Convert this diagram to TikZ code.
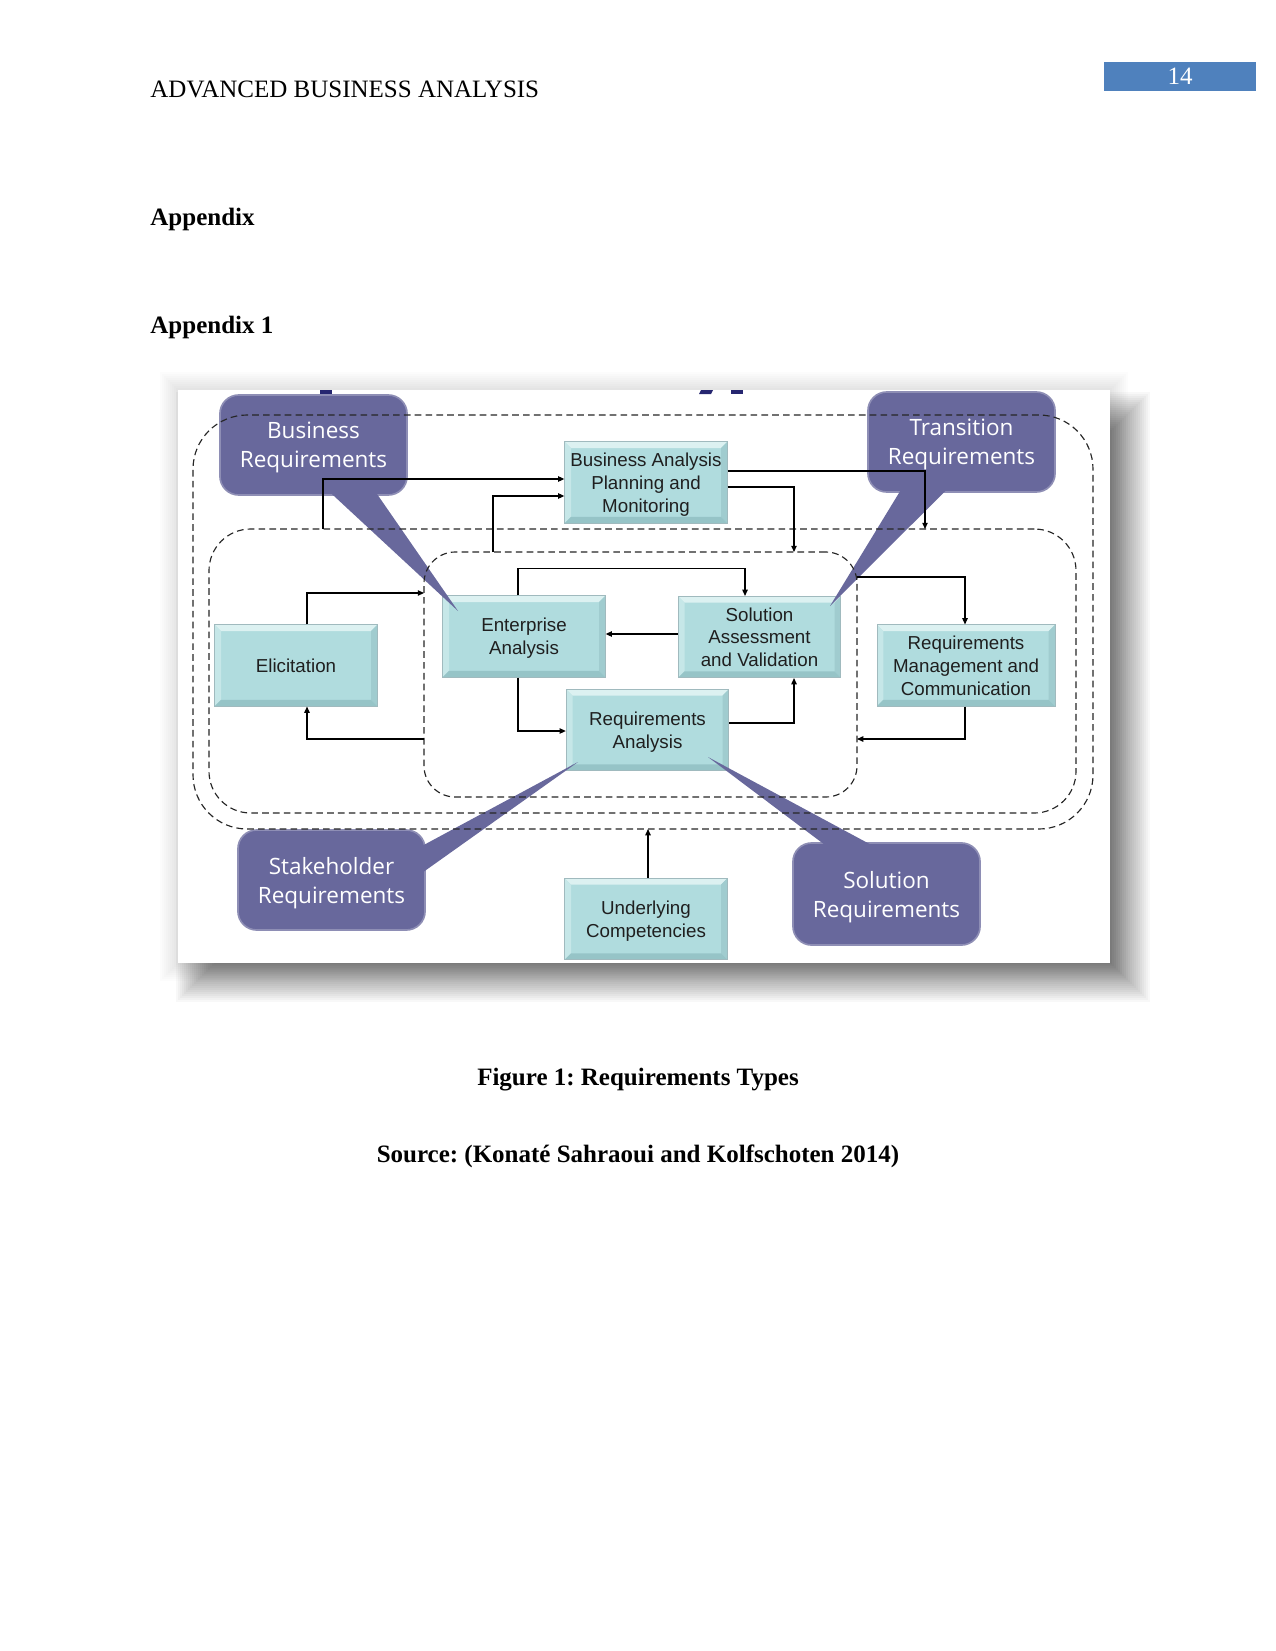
\documentclass[tikz,border=0pt]{standalone}
\usepackage{fontspec}
\setmainfont{Liberation Serif}
\newfontfamily\boxfont{Liberation Sans}
\newfontfamily\callfont{Open Sans}
\usepackage{tikz}
\usetikzlibrary{arrows.meta,calc}
\usepackage{xcolor}
\frenchspacing
\definecolor{pagecol}{RGB}{79,129,189}
\definecolor{tealfill}{RGB}{176,220,222}
\definecolor{teallight}{RGB}{220,241,241}
\definecolor{tealside}{RGB}{198,231,232}
\definecolor{tealshade}{RGB}{160,204,207}
\definecolor{tealdark}{RGB}{150,196,199}
\definecolor{tealedge}{RGB}{160,186,190}
\definecolor{callcol}{RGB}{104,104,156}
\definecolor{titlecol}{RGB}{38,38,112}
\tikzset{
  % task box with bevelled edge
  tbox/.style={rectangle, draw=tealedge, line width=0.4pt, fill=tealfill,
    minimum width=78pt, minimum height=39pt, inner sep=2pt, align=center, text depth=0pt,
    font=\boxfont\fontsize{9}{10.9}\selectfont, text=black!88,
    path picture={
      \fill[teallight] (path picture bounding box.north west) -- (path picture bounding box.north east)
        -- ([shift={(-3pt,-3pt)}]path picture bounding box.north east)
        -- ([shift={(3pt,-3pt)}]path picture bounding box.north west) -- cycle;
      \fill[tealside] (path picture bounding box.north west) -- ([shift={(3pt,-3pt)}]path picture bounding box.north west)
        -- ([shift={(3pt,3pt)}]path picture bounding box.south west) -- (path picture bounding box.south west) -- cycle;
      \fill[tealshade] (path picture bounding box.north east) -- ([shift={(-3pt,-3pt)}]path picture bounding box.north east)
        -- ([shift={(-3pt,3pt)}]path picture bounding box.south east) -- (path picture bounding box.south east) -- cycle;
      \fill[tealdark] (path picture bounding box.south west) -- ([shift={(3pt,3pt)}]path picture bounding box.south west)
        -- ([shift={(-3pt,3pt)}]path picture bounding box.south east) -- (path picture bounding box.south east) -- cycle;
    }},
  % purple callout
  callout/.style={rectangle, rounded corners=9pt, fill=callcol, draw=callcol!75!white, line width=0.8pt,
    minimum width=89.8pt, minimum height=48pt, inner sep=2pt, align=center, text depth=0pt, text=white,
    font=\callfont\fontsize{10.8}{13.9}\selectfont},
  % callout pointer
  pointer/.style={fill=callcol},
  % dashed zone
  zone/.style={rectangle, draw=black!85, dash pattern=on 3.2pt off 2pt, line width=0.55pt,
    inner sep=0pt, outer sep=0pt},
  % flow arrow
  flow/.style={-{Triangle[length=3pt,width=2.6pt]}, line width=0.55pt, black},
  % page texts
  pagetext/.style={anchor=base west, inner sep=0pt, font=\fontsize{12}{14}\selectfont},
  pagebox/.style={rectangle, fill=pagecol, minimum width=73pt, minimum height=14pt, inner sep=0pt,
    text=white, font=\fontsize{12}{14}\selectfont},
}

\begin{document}
\begin{tikzpicture}[x=0.48pt, y=-0.48pt]
  \useasboundingbox (0,0) rectangle (1275,1651);
  \fill[white] (0,0) rectangle (1275,1651);

  % page head
  \node[pagetext] (header) at (150,98) {ADVANCED BUSINESS ANALYSIS};
  \node[pagebox] (pageno) at (1180,76.5) {14};
  \node[pagetext, font=\bfseries\fontsize{12}{14}\selectfont] (apx) at (150,226) {Appendix};
  \node[pagetext, font=\bfseries\fontsize{12}{14}\selectfont] (apxone) at (150,333) {Appendix 1};

  % glow and drop shadow of the picture
  \foreach \k in {1,...,9}
    \fill[black, opacity=0.011] (178-2*\k,390-2*\k) rectangle (1110+2*\k,963+2*\k);
  \foreach \k in {0,...,19}
    \fill[black, opacity=0.028] (214-2*\k,430-2*\k) rectangle (1112+2*\k,964+2*\k);
  \node[rectangle, fill=white, inner sep=0pt, minimum width=447.36pt, minimum height=275.04pt]
    (frame) at (644,676.5) {};
  \fill[titlecol] (320,390) rectangle (332,394);
  \fill[titlecol] (701,390) -- (713,390) -- (711,394) -- (699,394) -- cycle;
  \fill[titlecol] (731,390) rectangle (743,394);

  % task boxes
  \node[tbox] (bapm) at (646,482.5) {Business Analysis\\Planning and\\Monitoring};
  \node[tbox] (ea) at (524,636.5) {Enterprise\\Analysis};
  \node[tbox] (sav) at (759.5,637) {Solution\\Assessment\\and Validation};
  \node[tbox] (eli) at (296,665.5) {Elicitation};
  \node[tbox, minimum width=85.4pt] (rmc) at (966,665.5) {Requirements\\Management and\\Communication};
  \node[tbox] (ra) at (647.5,730) {Requirements\\Analysis};
  \node[tbox] (uc) at (646,919) {Underlying\\Competencies};

  % callouts
  \node[callout] (busreq) at (313.5,445) {Business\\Requirements};
  \fill[pointer] ($(busreq.south)+(16,-4)$) -- (458,611) -- ($(busreq.south)+(62,-4)$) -- cycle;
  \node[callout] (transreq) at (961.5,442) {Transition\\Requirements};
  \fill[pointer] ($(transreq.south)+(-60,-4)$) -- (830,606) -- ($(transreq.south)+(-14,-4)$) -- cycle;
  \node[callout] (stakereq) at (331.5,880) {Stakeholder\\Requirements};
  \fill[pointer] ($(stakereq.east)+(-4,-34)$) -- (578,762) -- ($(stakereq.east)+(-4,-7)$) -- cycle;
  \node[callout, minimum height=49pt] (solreq) at (886.5,894) {Solution\\Requirements};
  \fill[pointer] ($(solreq.north)+(-60,4)$) -- (708,757) -- ($(solreq.north)+(-13,4)$) -- cycle;

  % dashed zones
  \node[zone, rounded corners=26pt, minimum width=432pt, minimum height=198.72pt] (outer) at (643,622) {};
  \node[zone, rounded corners=20pt, minimum width=416.16pt, minimum height=136.32pt] (mid) at (642.5,671) {};
  \node[zone, rounded corners=15pt, minimum width=207.84pt, minimum height=117.6pt] (inner) at (640.5,674.5) {};

  % flows
  \draw[flow] (mid.north -| 323,0) |- (bapm.west |- 0,479);
  \draw[flow] (inner.north -| 493,0) |- (bapm.west |- 0,496);
  \draw[flow] (bapm.east |- 0,471) -| (mid.north -| 925,0);
  \draw[flow] (bapm.east |- 0,487) -| (inner.north -| 794,0);
  \draw[flow] (ea.north -| 518,0) -- ++(0,-27) -| (sav.north -| 745,0);
  \draw[flow] (sav.west |- 0,634) -- (ea.east |- 0,634);
  \draw[flow] (ea.south -| 518,0) |- (ra.west |- 0,731);
  \draw[flow] (ra.east |- 0,723) -| (sav.south -| 794,0);
  \draw[flow] (eli.north -| 307,0) |- (inner.west |- 0,593);
  \draw[flow] (inner.west |- 0,739) -| (eli.south -| 307,0);
  \draw[flow] (inner.east |- 0,577) -| (rmc.north -| 965,0);
  \draw[flow] (rmc.south -| 965,0) |- (inner.east |- 0,739);
  \draw[flow] (uc.north -| 648,0) -- (outer.south -| 648,0);

  % caption
  \node[anchor=base, inner sep=0pt, font=\bfseries\fontsize{12}{14}\selectfont] (caption) at (638,1085)
    {Figure 1: Requirements Types};
  \node[anchor=base, inner sep=0pt, font=\bfseries\fontsize{12}{14}\selectfont] (source) at (638,1162)
    {Source: (Konaté Sahraoui and Kolfschoten 2014)};
\end{tikzpicture}
\end{document}
